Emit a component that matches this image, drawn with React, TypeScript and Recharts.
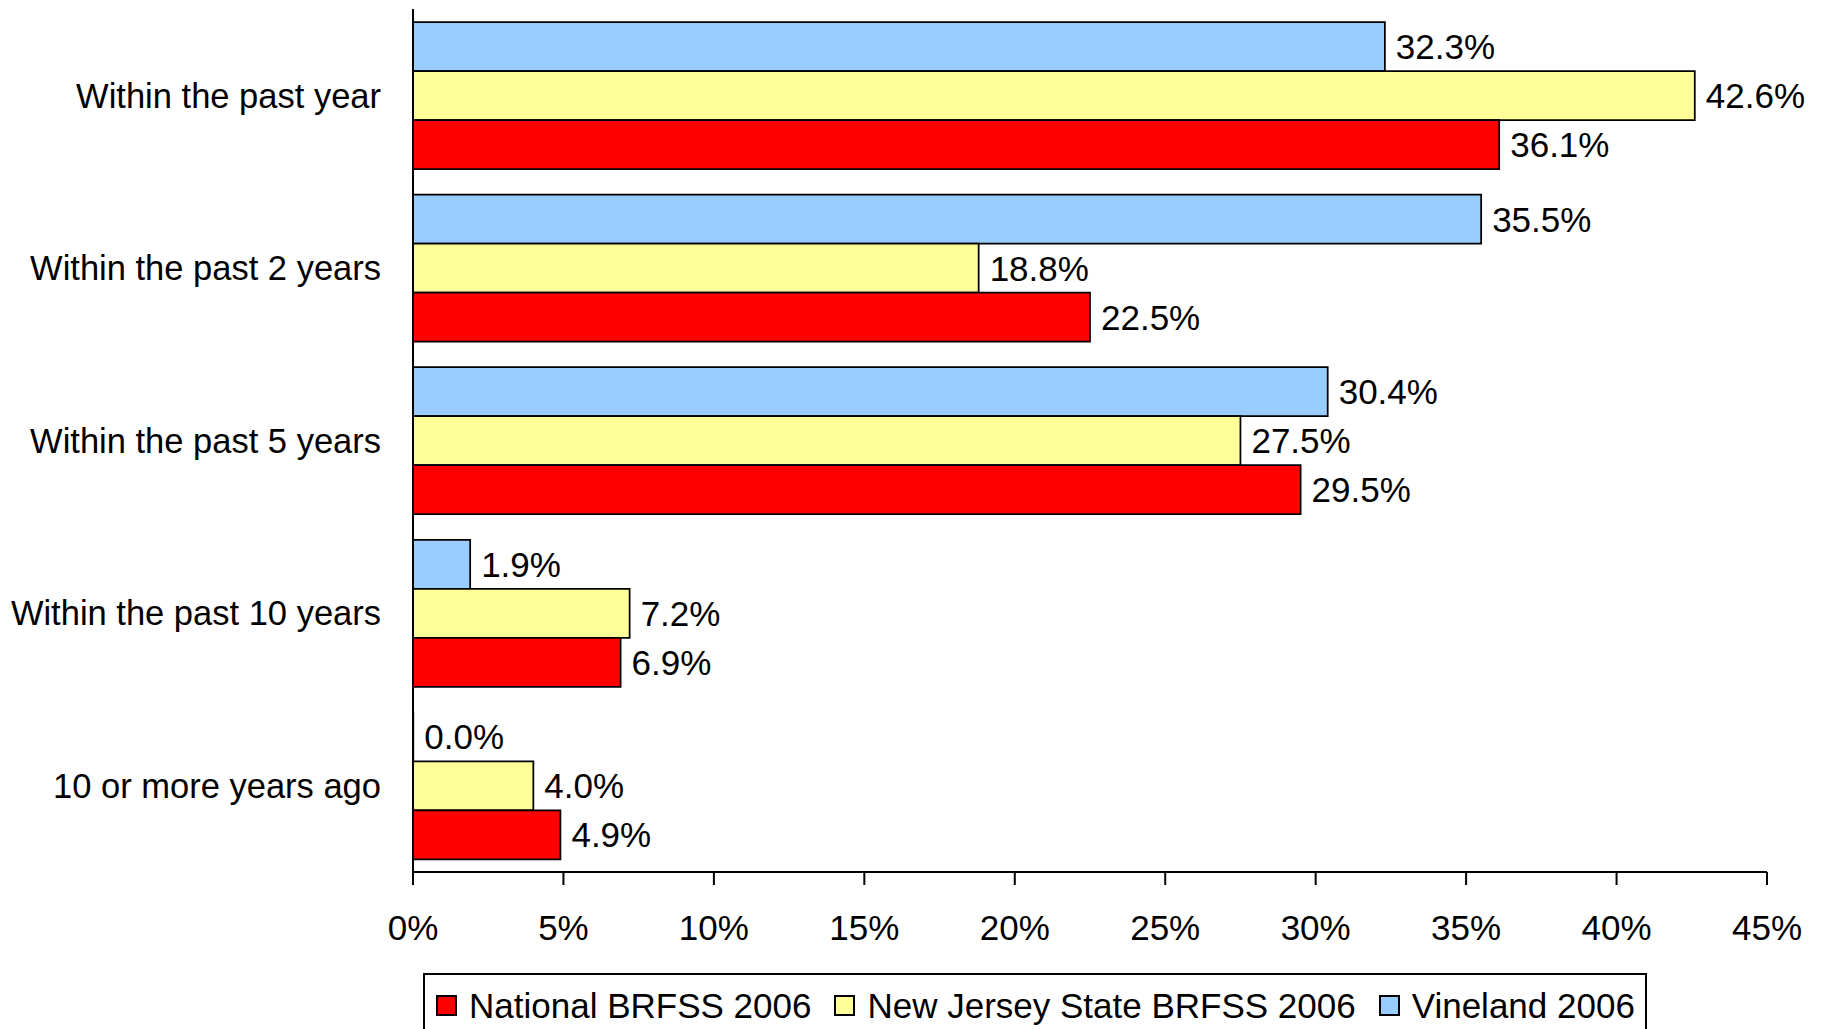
import React from 'react';
import { BarChart, Bar, XAxis, YAxis, LabelList } from 'recharts';

const categories = [
  'Within the past year',
  'Within the past 2 years',
  'Within the past 5 years',
  'Within the past 10 years',
  '10 or more years ago',
];
const national = [36.1, 22.5, 29.5, 6.9, 4.9];
const newJersey = [42.6, 18.8, 27.5, 7.2, 4.0];
const vineland = [32.3, 35.5, 30.4, 1.9, 0.0];
const xTicks = [0, 5, 10, 15, 20, 25, 30, 35, 40, 45];

const seriesDrawOrder = [
  { key: 'vineland', name: 'Vineland 2006', color: '#99CCFF' },
  { key: 'newJersey', name: 'New Jersey State BRFSS 2006', color: '#FFFF99' },
  { key: 'national', name: 'National BRFSS 2006', color: '#FF0000' },
];
const legendOrder = ['national', 'newJersey', 'vineland'];

const data = categories.map((c, i) => ({
  category: c,
  national: national[i],
  newJersey: newJersey[i],
  vineland: vineland[i],
}));

const FONT = '"Liberation Sans", Arial, sans-serif';
const FS = 35;

export default function App() {
  return (
    <div
      style={{
        position: 'absolute',
        top: 0,
        left: 0,
        width: 1826,
        height: 1029,
        overflow: 'hidden',
        background: '#fff',
        fontFamily: FONT,
      }}
    >
      <BarChart
        width={1826}
        height={1029}
        data={data}
        layout="vertical"
        margin={{ top: 9, right: 59, left: 0, bottom: 97 }}
        barGap={0}
        barSize={49}
      >
        <XAxis
          type="number"
          domain={[0, 45]}
          ticks={xTicks}
          interval={0}
          tickFormatter={(v: number) => `${v}%`}
          tick={{ fill: '#000', fontSize: FS, fontFamily: FONT }}
          axisLine={{ stroke: '#000', strokeWidth: 2 }}
          tickLine={{ stroke: '#000', strokeWidth: 2 }}
          tickSize={13}
          tickMargin={30}
          height={60}
        />
        <YAxis
          type="category"
          dataKey="category"
          width={413}
          interval={0}
          tick={{ fill: '#000', fontSize: 34.5, fontFamily: FONT }}
          axisLine={{ stroke: '#000', strokeWidth: 2 }}
          tickLine={false}
          tickSize={0}
          tickMargin={32}
        />
        {seriesDrawOrder.map((s) => (
          <Bar
            key={s.key}
            dataKey={s.key}
            name={s.name}
            fill={s.color}
            stroke="#000"
            strokeWidth={1.75}
            minPointSize={0.3}
            isAnimationActive={false}
          >
            <LabelList
              dataKey={s.key}
              position="right"
              offset={11}
              formatter={(v: number) => `${Number(v).toFixed(1)}%`}
              style={{ fill: '#000', fontSize: FS, fontFamily: FONT }}
            />
          </Bar>
        ))}
      </BarChart>
      <div
        style={{
          position: 'absolute',
          left: 423,
          top: 973,
          width: 1224,
          height: 64,
          boxSizing: 'border-box',
          border: '2px solid #000',
          display: 'flex',
          alignItems: 'center',
          paddingLeft: 11,
          background: '#fff',
        }}
      >
        {legendOrder.map((k, i) => {
          const s = seriesDrawOrder.find((d) => d.key === k)!;
          return (
            <div
              key={k}
              style={{
                display: 'flex',
                alignItems: 'center',
                marginRight: i < legendOrder.length - 1 ? 23 : 0,
              }}
            >
              <div
                style={{
                  width: 21,
                  height: 21,
                  boxSizing: 'border-box',
                  border: '2px solid #000',
                  background: s.color,
                  marginRight: 12,
                }}
              />
              <span style={{ fontSize: FS, color: '#000', lineHeight: 1, whiteSpace: 'nowrap' }}>{s.name}</span>
            </div>
          );
        })}
      </div>
    </div>
  );
}
